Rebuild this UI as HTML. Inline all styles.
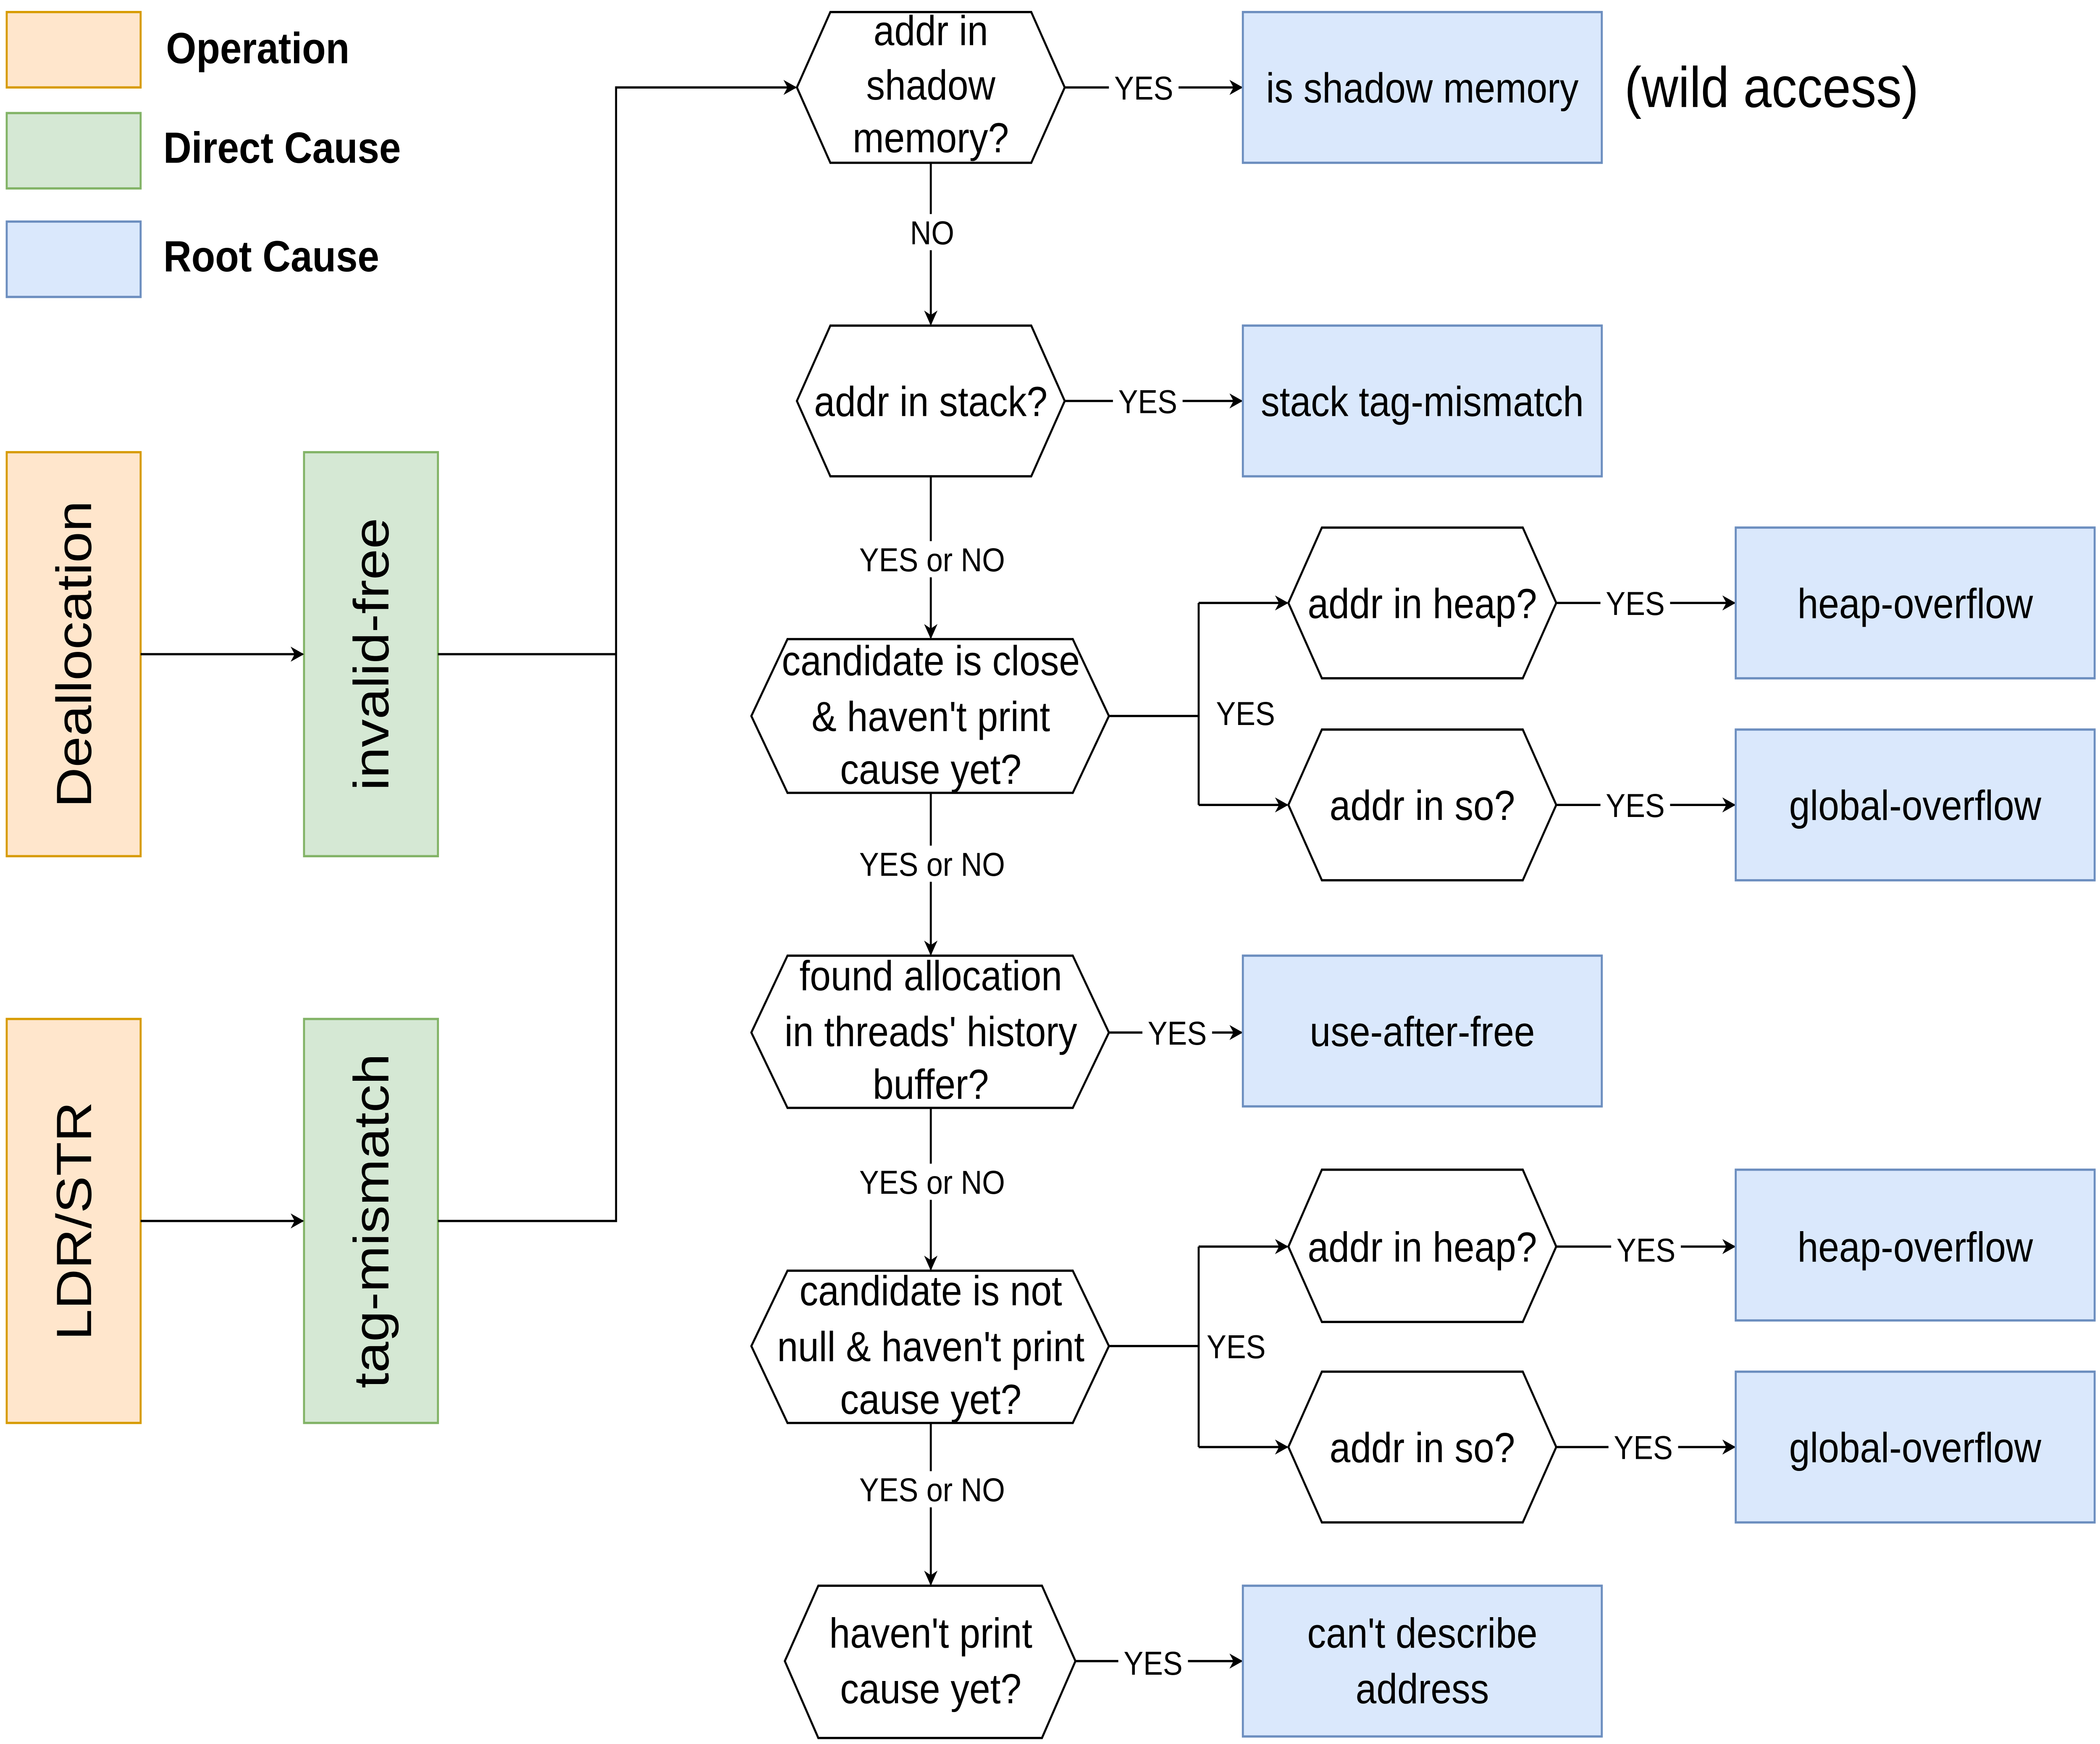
<!DOCTYPE html>
<html><head><meta charset="utf-8">
<style>
html,body{margin:0;padding:0;background:#fff;overflow:hidden;width:100%;height:100%;}
svg{display:block;width:100vw;height:100vh;}
text{font-family:"Liberation Sans",Arial,sans-serif;fill:#000;}
</style></head>
<body>
<svg viewBox="0 0 1568 1157" preserveAspectRatio="none" xmlns="http://www.w3.org/2000/svg">
<defs>
<marker id="a" markerWidth="10" markerHeight="10" refX="9" refY="5" orient="auto" markerUnits="userSpaceOnUse">
<path d="M0,0 L10,5 L0,10 L3,5 z" fill="#000"/>
</marker>
</defs>
<rect width="1568" height="1157" fill="#fff"/>

<rect x="5" y="8" width="100" height="50" fill="#ffe6cc" stroke="#d79b00" stroke-width="1.5"/>
<rect x="5" y="75" width="100" height="50" fill="#d5e8d4" stroke="#82b366" stroke-width="1.5"/>
<rect x="5" y="147" width="100" height="50" fill="#dae8fc" stroke="#6c8ebf" stroke-width="1.5"/>
<text x="124" y="42" font-size="29" font-weight="bold">Operation</text>
<text x="122" y="108" font-size="29" font-weight="bold">Direct Cause</text>
<text x="122" y="180" font-size="29" font-weight="bold">Root Cause</text>

<rect x="5" y="300" width="100" height="268" fill="#ffe6cc" stroke="#d79b00" stroke-width="1.5"/>
<rect x="227" y="300" width="100" height="268" fill="#d5e8d4" stroke="#82b366" stroke-width="1.5"/>
<rect x="5" y="676" width="100" height="268" fill="#ffe6cc" stroke="#d79b00" stroke-width="1.5"/>
<rect x="227" y="676" width="100" height="268" fill="#d5e8d4" stroke="#82b366" stroke-width="1.5"/>
<text transform="translate(68,434) rotate(-90)" text-anchor="middle" font-size="37">Deallocation</text>
<text transform="translate(290,434) rotate(-90)" text-anchor="middle" font-size="37">invalid-free</text>
<text transform="translate(68,810) rotate(-90)" text-anchor="middle" font-size="37">LDR/STR</text>
<text transform="translate(290,810) rotate(-90)" text-anchor="middle" font-size="37">tag-mismatch</text>

<g stroke="#000" stroke-width="1.5" fill="none">
<line x1="105" y1="434" x2="226" y2="434" marker-end="url(#a)"/>
<line x1="105" y1="810" x2="226" y2="810" marker-end="url(#a)"/>
<polyline points="327,434 460,434"/>
<polyline points="327,810 460,810 460,58 594,58" marker-end="url(#a)"/>
<line x1="695" y1="108" x2="695" y2="215" marker-end="url(#a)"/>
<line x1="695" y1="316" x2="695" y2="423" marker-end="url(#a)"/>
<line x1="695" y1="526" x2="695" y2="633" marker-end="url(#a)"/>
<line x1="695" y1="735" x2="695" y2="842" marker-end="url(#a)"/>
<line x1="695" y1="944" x2="695" y2="1051" marker-end="url(#a)"/>
<line x1="795" y1="58" x2="927" y2="58" marker-end="url(#a)"/>
<line x1="795" y1="266" x2="927" y2="266" marker-end="url(#a)"/>
<line x1="828" y1="685" x2="927" y2="685" marker-end="url(#a)"/>
<line x1="803" y1="1102" x2="927" y2="1102" marker-end="url(#a)"/>
<polyline points="828,475 895,475"/>
<polyline points="895,400 895,534"/>
<line x1="895" y1="400" x2="961" y2="400" marker-end="url(#a)"/>
<line x1="895" y1="534" x2="961" y2="534" marker-end="url(#a)"/>
<polyline points="828,893 895,893"/>
<polyline points="895,827 895,960"/>
<line x1="895" y1="827" x2="961" y2="827" marker-end="url(#a)"/>
<line x1="895" y1="960" x2="961" y2="960" marker-end="url(#a)"/>
<line x1="1162" y1="400" x2="1295" y2="400" marker-end="url(#a)"/>
<line x1="1162" y1="534" x2="1295" y2="534" marker-end="url(#a)"/>
<line x1="1162" y1="827" x2="1295" y2="827" marker-end="url(#a)"/>
<line x1="1162" y1="960" x2="1295" y2="960" marker-end="url(#a)"/>
</g>

<g fill="#fff" stroke="#000" stroke-width="1.5">
<polygon points="595,58 620,8 770,8 795,58 770,108 620,108"/>
<polygon points="595,266 620,216 770,216 795,266 770,316 620,316"/>
<polygon points="561,475 588,424 801,424 828,475 801,526 588,526"/>
<polygon points="962,400 987,350 1137,350 1162,400 1137,450 987,450"/>
<polygon points="962,534 987,484 1137,484 1162,534 1137,584 987,584"/>
<polygon points="561,685 588,634 801,634 828,685 801,735 588,735"/>
<polygon points="561,893 588,843 801,843 828,893 801,944 588,944"/>
<polygon points="962,827 987,776 1137,776 1162,827 1137,877 987,877"/>
<polygon points="962,960 987,910 1137,910 1162,960 1137,1010 987,1010"/>
<polygon points="586,1102 611,1052 778,1052 803,1102 778,1153 611,1153"/>
</g>

<g fill="#dae8fc" stroke="#6c8ebf" stroke-width="1.5">
<rect x="928" y="8" width="268" height="100"/>
<rect x="928" y="216" width="268" height="100"/>
<rect x="1296" y="350" width="268" height="100"/>
<rect x="1296" y="484" width="268" height="100"/>
<rect x="928" y="634" width="268" height="100"/>
<rect x="1296" y="776" width="268" height="100"/>
<rect x="1296" y="910" width="268" height="100"/>
<rect x="928" y="1052" width="268" height="100"/>
</g>

<g font-size="28" text-anchor="middle">
<text x="695" y="30">addr in</text>
<text x="695" y="66">shadow</text>
<text x="695" y="101">memory?</text>
<text x="695" y="276">addr in stack?</text>
<text x="695" y="448">candidate is close</text>
<text x="695" y="485">&amp; haven't print</text>
<text x="695" y="520">cause yet?</text>
<text x="1062" y="410">addr in heap?</text>
<text x="1062" y="544">addr in so?</text>
<text x="695" y="657">found allocation</text>
<text x="695" y="694">in threads' history</text>
<text x="695" y="729">buffer?</text>
<text x="695" y="866">candidate is not</text>
<text x="695" y="903">null &amp; haven't print</text>
<text x="695" y="938">cause yet?</text>
<text x="1062" y="837">addr in heap?</text>
<text x="1062" y="970">addr in so?</text>
<text x="695" y="1093">haven't print</text>
<text x="695" y="1130">cause yet?</text>

<text x="1062" y="68">is shadow memory</text>
<text x="1062" y="276">stack tag-mismatch</text>
<text x="1430" y="410">heap-overflow</text>
<text x="1430" y="544">global-overflow</text>
<text x="1062" y="694">use-after-free</text>
<text x="1430" y="837">heap-overflow</text>
<text x="1430" y="970">global-overflow</text>
<text x="1062" y="1093">can't describe</text>
<text x="1062" y="1130">address</text>
</g>
<text x="1213" y="71" font-size="38">(wild access)</text>

<g font-size="22" text-anchor="middle">
<rect x="828" y="46" width="52" height="24" fill="#fff"/><text x="854" y="66">YES</text>
<rect x="831" y="254" width="52" height="24" fill="#fff"/><text x="857" y="274">YES</text>
<rect x="1195" y="388" width="52" height="24" fill="#fff"/><text x="1221" y="408">YES</text>
<rect x="1195" y="522" width="52" height="24" fill="#fff"/><text x="1221" y="542">YES</text>
<rect x="853" y="673" width="52" height="24" fill="#fff"/><text x="879" y="693">YES</text>
<rect x="1203" y="817" width="52" height="24" fill="#fff"/><text x="1229" y="837">YES</text>
<rect x="1201" y="948" width="52" height="24" fill="#fff"/><text x="1227" y="968">YES</text>
<rect x="835" y="1091" width="52" height="24" fill="#fff"/><text x="861" y="1111">YES</text>
<text x="930" y="481">YES</text>
<text x="923" y="901">YES</text>
<rect x="675" y="142" width="40" height="24" fill="#fff"/><text x="696" y="162">NO</text>
<rect x="636" y="359" width="120" height="24" fill="#fff"/><text x="696" y="379">YES or NO</text>
<rect x="636" y="561" width="120" height="24" fill="#fff"/><text x="696" y="581">YES or NO</text>
<rect x="636" y="772" width="120" height="24" fill="#fff"/><text x="696" y="792">YES or NO</text>
<rect x="636" y="976" width="120" height="24" fill="#fff"/><text x="696" y="996">YES or NO</text>
</g>
</svg>
</body></html>
